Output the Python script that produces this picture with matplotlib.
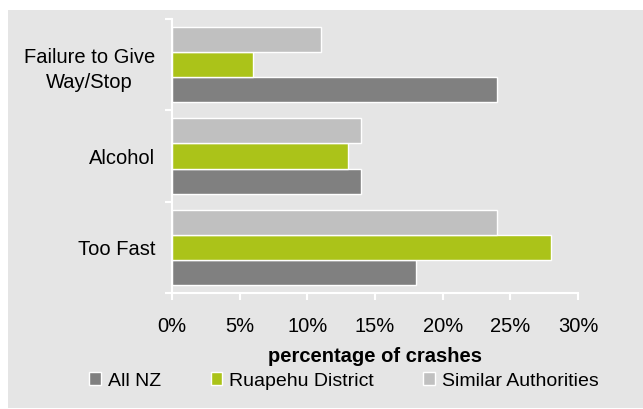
import numpy as np
import matplotlib
matplotlib.use('Agg')
import matplotlib.pyplot as plt
from matplotlib.patches import Rectangle

plt.rcParams['font.family'] = ['Liberation Sans', 'DejaVu Sans']

# data, categories listed bottom to top
categories = ['Too Fast', 'Alcohol', 'Failure to Give\nWay/Stop']
all_nz = [18, 14, 24]
ruapehu = [28, 13, 6]
similar = [24, 14, 11]
series_names = ['All NZ', 'Ruapehu District', 'Similar Authorities']
colors = ['#808080', '#abc319', '#c0c0c0']

panel = '#e5e5e5'

fig = plt.figure(figsize=(6.43, 4.09), dpi=100)
fig.patch.set_facecolor('white')
# grey chart area box
fig.patches.append(Rectangle((8 / 643, 1 / 409), 1 - 8 / 643, 1 - 11 / 409,
                             transform=fig.transFigure, facecolor=panel,
                             edgecolor='none', zorder=-10))

ax = fig.add_axes([172 / 643, 1 - 293 / 409, (578 - 172) / 643, (293 - 19) / 409])
ax.set_facecolor('none')

y = np.arange(len(categories))
h = 0.275
ax.barh(y - h, all_nz, h, color=colors[0], edgecolor='white', lw=1, label=series_names[0])
ax.barh(y, ruapehu, h, color=colors[1], edgecolor='white', lw=1, label=series_names[1])
ax.barh(y + h, similar, h, color=colors[2], edgecolor='white', lw=1, label=series_names[2])

ax.set_xlim(0, 30)
ax.set_ylim(-0.5, len(categories) - 0.5)
ax.set_xticks(np.arange(0, 31, 5))
ax.set_xticklabels(['%d%%' % v for v in range(0, 31, 5)], fontsize=14.5)
ax.set_yticks(y)
ax.set_yticklabels(categories, fontsize=14.5)
for lab in ax.get_yticklabels():
    lab.set_multialignment('center')
    lab.set_linespacing(1.45)
ax.set_yticks(np.arange(-0.5, len(categories)), minor=True)
ax.tick_params(axis='y', which='major', length=0, pad=12)
ax.tick_params(axis='y', which='minor', length=5, width=1.5, color='white')
ax.tick_params(axis='x', length=5, width=1.5, color='white', pad=12)

for s in ['top', 'right']:
    ax.spines[s].set_visible(False)
for s in ['left', 'bottom']:
    ax.spines[s].set_color('white')
    ax.spines[s].set_linewidth(1.5)

ax.set_xlabel('percentage of crashes', fontsize=14.5, fontweight='bold', labelpad=8)

fig.legend(loc='center', bbox_to_anchor=(0.535, 1 - 381 / 409), ncol=3,
           frameon=False, fontsize=14, handlelength=0.6, handleheight=0.6,
           handletextpad=0.35, columnspacing=2.55)

fig.savefig('out.png', dpi=100, facecolor=fig.get_facecolor())
